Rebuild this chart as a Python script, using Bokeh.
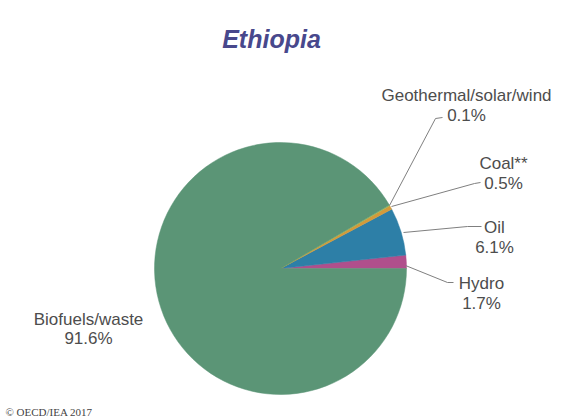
import math
from bokeh.plotting import figure
from bokeh.models import Range1d, ColumnDataSource
from bokeh.core.properties import value
from bokeh.embed import file_html
from bokeh.resources import INLINE

# ---- data ----
categories = ["Hydro", "Oil", "Coal**", "Geothermal/solar/wind", "Biofuels/waste"]
shares = [1.7, 6.1, 0.5, 0.1, 91.6]
colors = ["#b04f8c", "#2d7fa7", "#d39a3a", "#9bbb59", "#5b9576"]
title_text = "Ethiopia"
credit_text = "\u00a9 OECD/IEA 2017"

W, H = 561, 419
CX, CY, R = 280, 268, 126  # pie centre / radius in image pixels


def Y(y):
    return H - y


total = sum(shares)
starts, ends = [], []
acc = 0.0
for v in shares:
    starts.append(2 * math.pi * acc / total)
    acc += v
    ends.append(2 * math.pi * acc / total)

p = figure(width=W, height=H, x_range=Range1d(0, W), y_range=Range1d(0, H),
           x_axis_type=None, y_axis_type=None, toolbar_location=None,
           output_backend="svg", min_border=0, outline_line_color=None,
           background_fill_color="white", border_fill_color="white")
p.xgrid.visible = False
p.ygrid.visible = False

src = ColumnDataSource(dict(start=starts, end=ends, color=colors, cat=categories))
p.wedge(x=CX, y=Y(CY), radius=R, start_angle="start", end_angle="end",
        direction="anticlock", fill_color="color", line_color="color",
        line_width=0.5, source=src)

# leader lines (image pixel coords) for Hydro, Oil, Coal, Geothermal
leaders = {
    "Hydro": ([405, 447, 453], [265, 282, 282]),
    "Oil": ([403, 467, 481], [232, 226, 226]),
    "Coal**": ([391, 474, 480], [206, 183, 182]),
    "Geothermal/solar/wind": ([389, 435, 442], [205, 118, 117]),
}
for cat, (xs, ys) in leaders.items():
    p.line(xs, [Y(y) for y in ys], line_color="#7f7f7f", line_width=1)

# label positions: (center x, baseline of name, baseline of value)
label_pos = {
    "Hydro": (481, 283, 303),
    "Oil": (494, 227, 247),
    "Coal**": (503, 163, 183),
    "Geothermal/solar/wind": (466, 95, 115),
    "Biofuels/waste": (88, 319, 338),
}
tx, ty, tt = [], [], []
for cat, v in zip(categories, shares):
    x, y1, y2 = label_pos[cat]
    tx += [x, x]
    ty += [Y(y1), Y(y2)]
    tt += [cat, f"{v}%"]
p.text(x=tx, y=ty, text=tt, text_align="center", text_baseline="alphabetic",
       text_font=value("Liberation Sans"), text_font_size="17px",
       text_color="#4d4d4d")

p.text(x=[271], y=[Y(38)], text=[title_text], text_align="center",
       text_baseline="alphabetic", text_font=value("Liberation Sans"),
       text_font_size="25px", text_font_style="bold italic",
       text_color="#48488c")

p.text(x=[5], y=[Y(411)], text=[credit_text], text_align="left",
       text_baseline="alphabetic", text_font=value("Liberation Serif"),
       text_font_size="11px", text_color="#444444")

open("out.html", "w").write(file_html(p, INLINE))
